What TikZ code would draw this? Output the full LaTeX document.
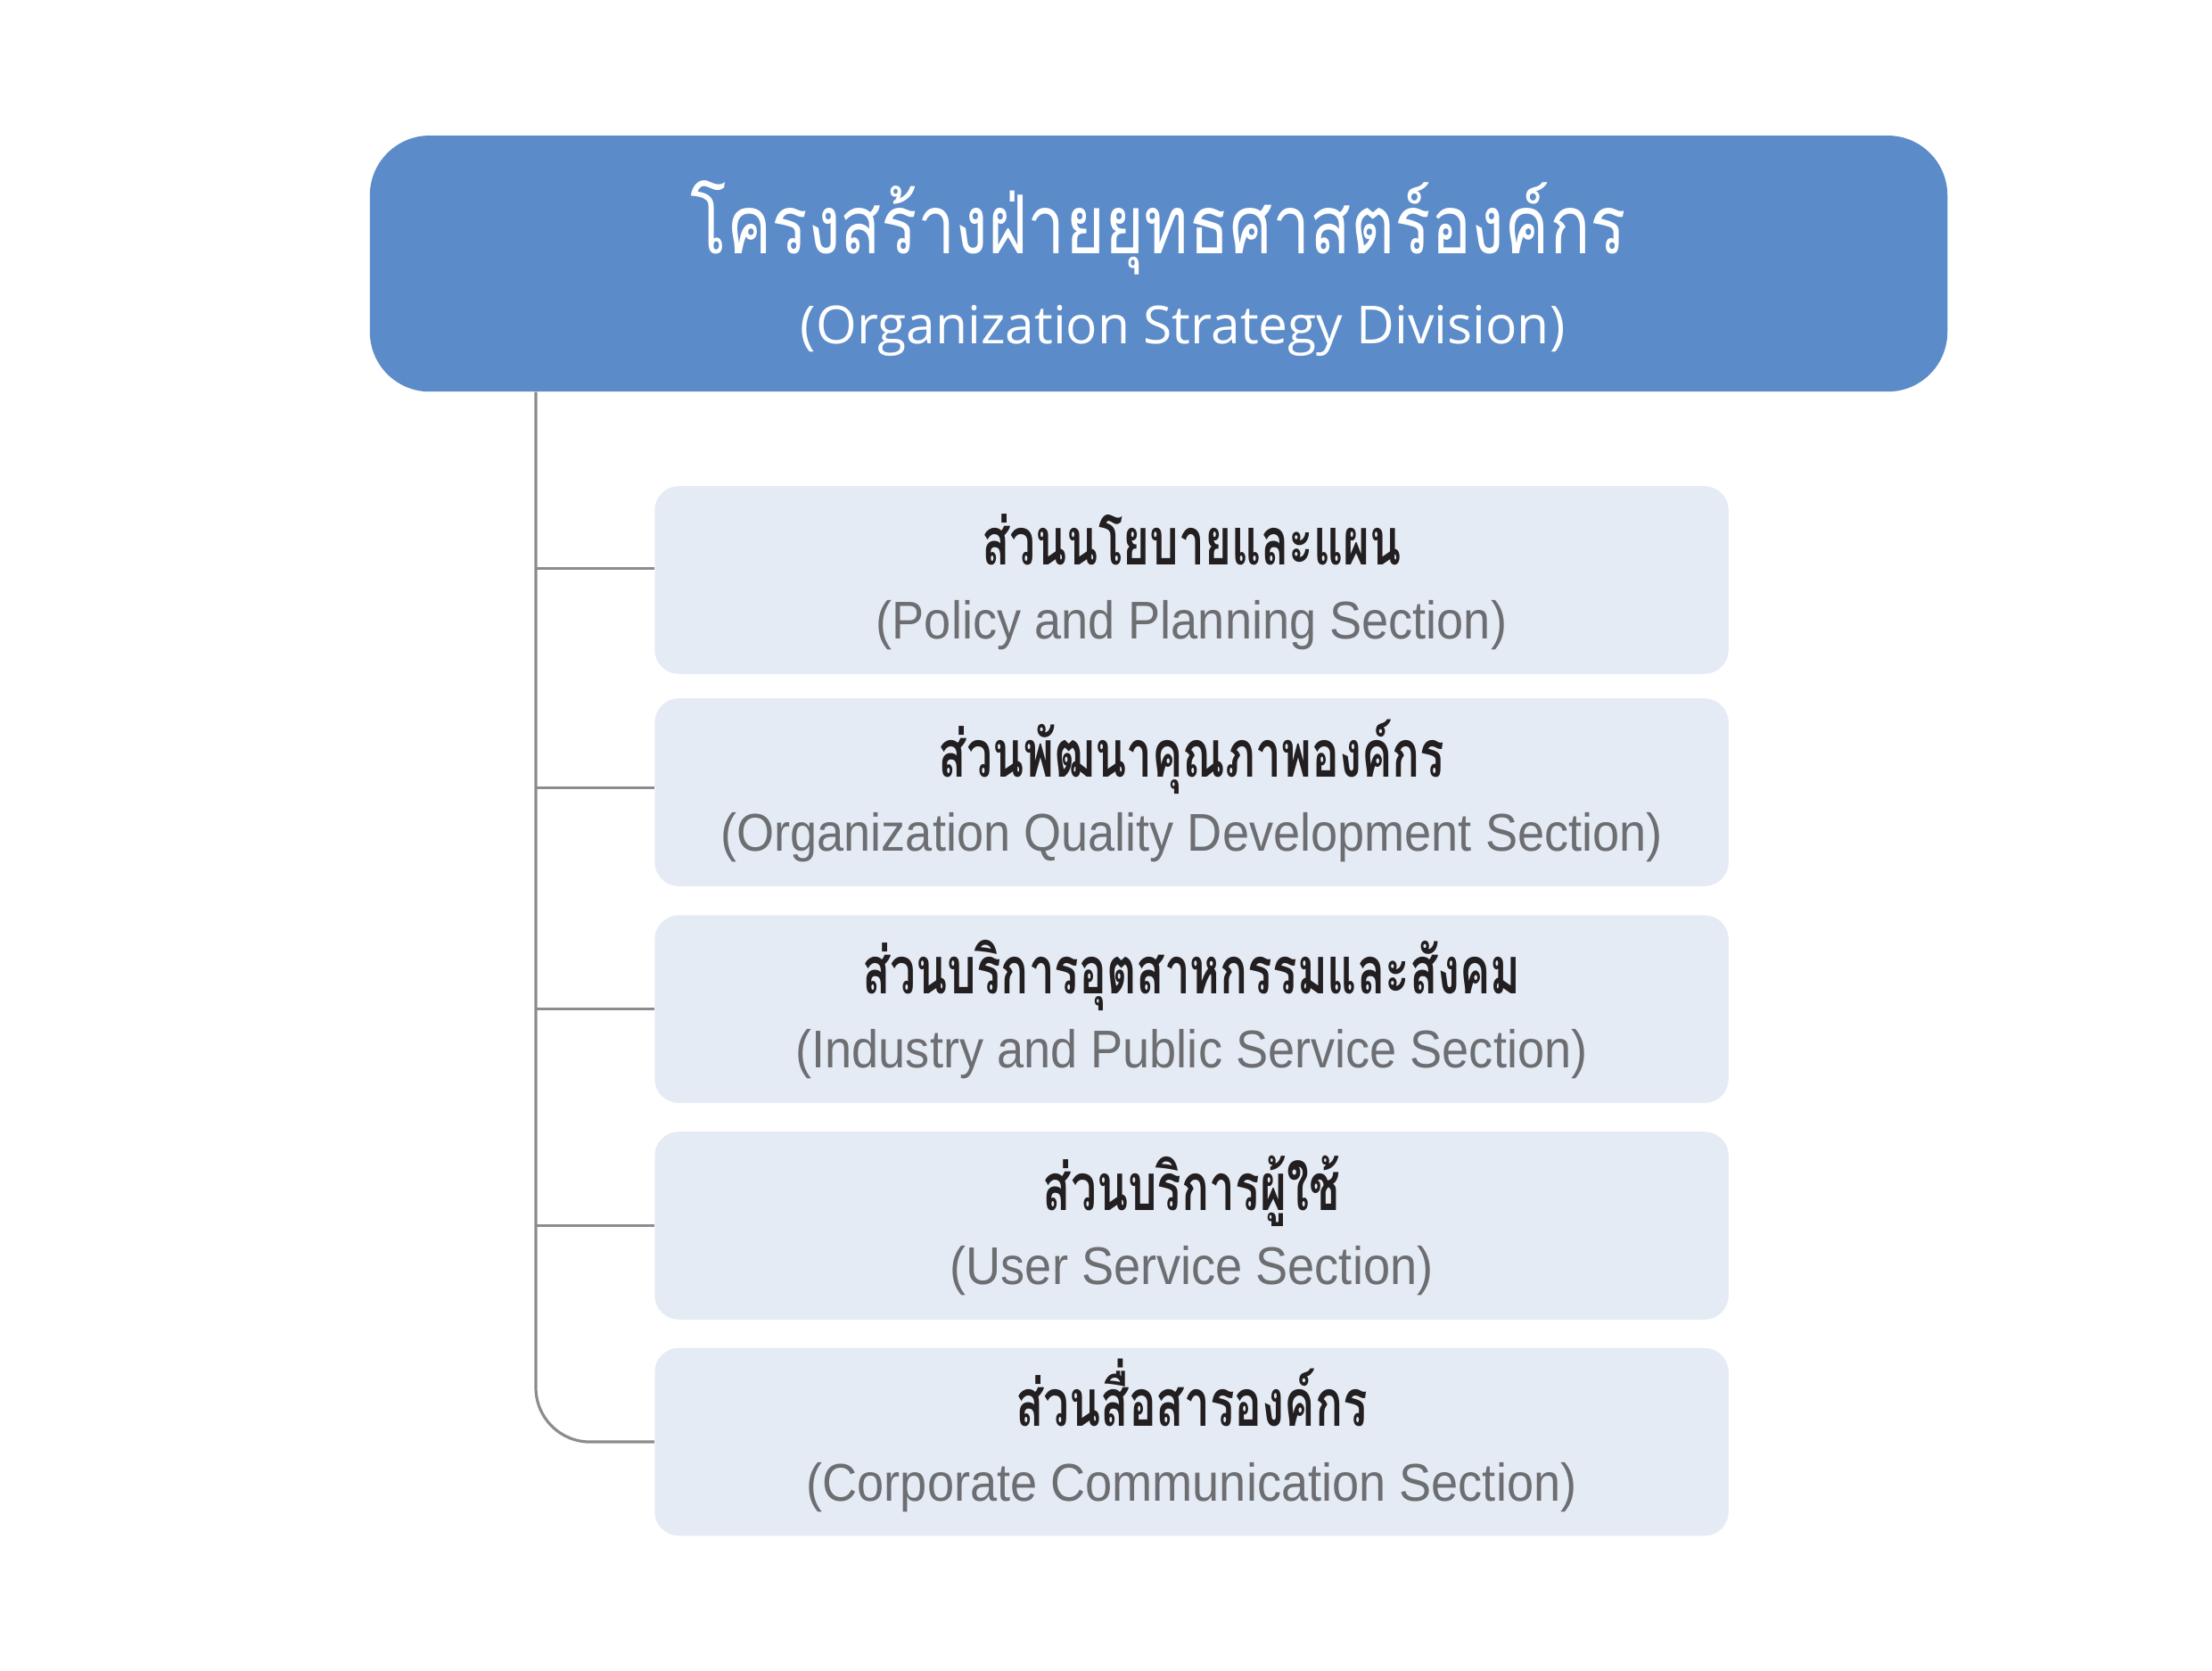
\documentclass[tikz,border=0pt]{standalone}
\usepackage{fontspec}
\newfontfamily\thaifont[Script=Thai,FakeStretch=0.83]{Loma}
\newfontfamily\thaibold[Script=Thai,FakeStretch=0.70]{Loma Bold}
\newfontfamily\engfont[FakeStretch=0.91]{Liberation Sans}
\newfontfamily\subfont{Open Sans}
\definecolor{divblue}{HTML}{5B8BC9}
\definecolor{secfill}{HTML}{E5EBF5}
\definecolor{secgrey}{HTML}{6D6E71}
\definecolor{secblack}{HTML}{231F20}
\definecolor{linegrey}{HTML}{8C8C8E}
\tikzset{>=stealth}
\tikzset{
  divbox/.style={fill=divblue, rounded corners=42pt, minimum width=1109pt, minimum height=180pt, inner sep=0pt},
  secbox/.style={fill=secfill, rounded corners=17pt, minimum width=755pt, minimum height=132pt, inner sep=0pt},
  thname/.style={anchor=base, inner sep=0pt, text=secblack, font=\thaibold\fontsize{46}{55}\selectfont},
  enname/.style={anchor=base, inner sep=0pt, text=secgrey, font=\engfont\fontsize{37.3}{45}\selectfont},
  conn/.style={draw=linegrey, line width=2pt}
}

\begin{document}
\begin{tikzpicture}[x=1pt,y=-1pt]
    \useasboundingbox (0,0) rectangle (1555,1174);
    \node[divbox] (div) at (814.5,185.3) {};
    \node[anchor=base, inner sep=0pt, text=white, font=\thaifont\fontsize{57}{68}\selectfont] (divth) at ([yshift=6.7pt]div.center) {โครงสร้างฝ่ายยุทธศาสตร์องค์กร};
    \node[anchor=base, inner sep=0pt, text=white, font=\subfont\fontsize{36.8}{44}\selectfont] (diven) at ([xshift=17pt,yshift=-56.6pt]div.center) {(Organization Strategy Division)};

    \node[secbox] (s1) at (837.7,407.7) {};
    \node[secbox] (s2) at (837.7,556.9) {};
    \node[secbox] (s3) at (837.7,709.3) {};
    \node[secbox] (s4) at (837.7,861.5) {};
    \node[secbox] (s5) at (837.7,1013.5) {};

    \node[thname] (s1th) at ([yshift=10.9pt]s1.center) {ส่วนนโยบายและแผน};
    \node[enname] (s1en) at ([yshift=-41.5pt]s1.center) {(Policy and Planning Section)};
    \node[thname] (s2th) at ([yshift=10.9pt]s2.center) {ส่วนพัฒนาคุณภาพองค์กร};
    \node[enname] (s2en) at ([yshift=-41.5pt]s2.center) {(Organization Quality Development Section)};
    \node[thname] (s3th) at ([yshift=10.9pt]s3.center) {ส่วนบริการอุตสาหกรรมและสังคม};
    \node[enname] (s3en) at ([yshift=-41.5pt]s3.center) {(Industry and Public Service Section)};
    \node[thname] (s4th) at ([yshift=10.9pt]s4.center) {ส่วนบริการผู้ใช้};
    \node[enname] (s4en) at ([yshift=-41.5pt]s4.center) {(User Service Section)};
    \node[thname] (s5th) at ([yshift=10.9pt]s5.center) {ส่วนสื่อสารองค์กร};
    \node[enname] (s5en) at ([yshift=-41.5pt]s5.center) {(Corporate Communication Section)};

    \coordinate (spine) at (div.south -| 376.7,0);
    \draw[conn, rounded corners=38pt] (spine) |- (s5.west);
    \foreach \s/\d in {s1/8,s2/3,s3/0,s4/0}
        \draw[conn] ([yshift=\d pt]spine |- \s.west) -- ([yshift=\d pt]\s.west);
\end{tikzpicture}
\end{document}
